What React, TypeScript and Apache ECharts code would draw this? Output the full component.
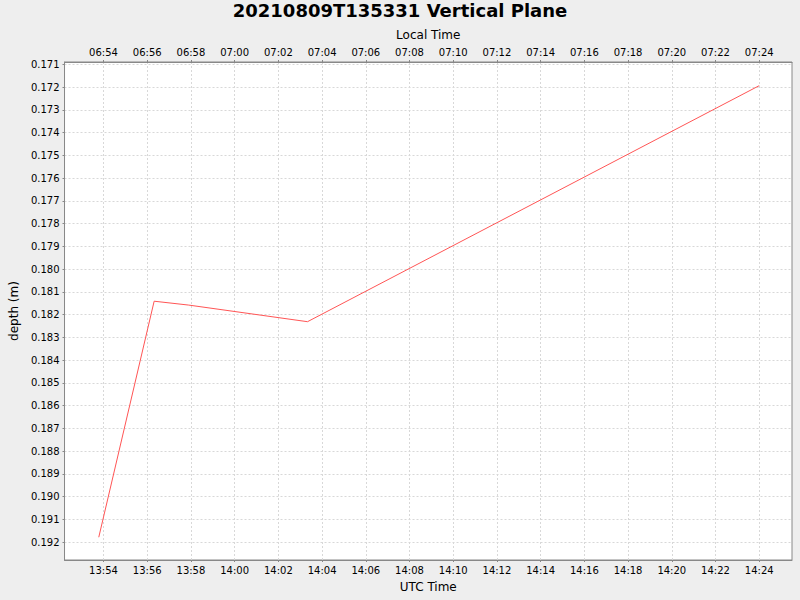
import React, { useEffect, useRef } from "react";
import * as echarts from "echarts";

const utcTimes = ["13:53:47", "13:56:19", "13:57:54", "14:03:20", "14:24:00"];
const depths = [0.19178, 0.18141, 0.18158, 0.18231, 0.17194];
const utcTickLabels = [
  "13:54", "13:56", "13:58", "14:00", "14:02", "14:04", "14:06", "14:08",
  "14:10", "14:12", "14:14", "14:16", "14:18", "14:20", "14:22", "14:24",
];
const depthTicks = [
  0.171, 0.172, 0.173, 0.174, 0.175, 0.176, 0.177, 0.178, 0.179, 0.18, 0.181,
  0.182, 0.183, 0.184, 0.185, 0.186, 0.187, 0.188, 0.189, 0.19, 0.191, 0.192,
];
const xMinTime = "13:52:13";
const xMaxTime = "14:25:30";
const yMin = 0.1709;
const yMax = 0.19278;
const localOffsetMinutes = -420;

const toMin = (s: string) => {
  const [h, m, sec] = s.split(":").map(Number);
  return h * 60 + m + (sec || 0) / 60;
};
const fmtMin = (v: number) => {
  const r = Math.round(v);
  const t = ((r % 1440) + 1440) % 1440;
  const h = Math.floor(t / 60);
  const m = t % 60;
  return String(h).padStart(2, "0") + ":" + String(m).padStart(2, "0");
};

export default function App() {
  const ref = useRef<HTMLDivElement>(null);
  useEffect(() => {
    if (!ref.current) return;
    const chart = echarts.init(ref.current, undefined, { renderer: "svg" });
    const font = "DejaVu Sans";
    const xMin = toMin(xMinTime);
    const xMax = toMin(xMaxTime);
    const xTicks = utcTickLabels.map(toMin);
    const data = utcTimes.map((t, i) => [toMin(t), depths[i]]);
    const tickLabel = { fontFamily: font, fontSize: 10, color: "#000" };
    const axisLine = { show: true, lineStyle: { color: "#888", width: 1 } };
    const splitLine = { show: true, lineStyle: { color: "#d8d8d8", type: [2, 2] as any, width: 1 } };
    const axisTick = (vals: number[]) => ({ show: true, length: 2, customValues: vals, lineStyle: { color: "#888" } });
    chart.setOption({
      animation: false,
      backgroundColor: "#eeeeee",
      title: {
        text: "20210809T135331 Vertical Plane",
        left: "center",
        top: 1,
        padding: 0,
        textStyle: { fontFamily: font, fontSize: 18, fontWeight: "bold", color: "#000" },
      },
      grid: {
        left: 62,
        top: 62,
        width: 730,
        height: 498,
        show: true,
        backgroundColor: "#fff",
        borderColor: "#888",
        borderWidth: 1,
      },
      xAxis: [
        {
          type: "value",
          position: "bottom",
          min: xMin,
          max: xMax,
          name: "UTC Time",
          nameLocation: "middle",
          nameGap: 21,
          nameTextStyle: { fontFamily: font, fontSize: 12, color: "#000" },
          axisLine,
          axisTick: axisTick(xTicks),
          axisLabel: { ...tickLabel, margin: 5, customValues: xTicks, formatter: (v: number) => fmtMin(v) },
          splitLine,
        },
        {
          type: "value",
          position: "top",
          min: xMin,
          max: xMax,
          name: "Local Time",
          nameLocation: "middle",
          nameGap: 21,
          nameTextStyle: { fontFamily: font, fontSize: 12, color: "#000" },
          axisLine,
          axisTick: axisTick(xTicks),
          axisLabel: {
            ...tickLabel,
            margin: 5,
            customValues: xTicks,
            formatter: (v: number) => fmtMin(v + localOffsetMinutes),
          },
          splitLine: { show: false },
        },
      ],
      yAxis: {
        type: "value",
        inverse: true,
        min: yMin,
        max: yMax,
        name: "depth (m)",
        nameLocation: "middle",
        nameGap: 37,
        nameTextStyle: { fontFamily: font, fontSize: 12, color: "#000" },
        axisLine,
        axisTick: axisTick(depthTicks),
        axisLabel: {
          ...tickLabel,
          margin: 5,
          customValues: depthTicks,
          formatter: (v: number) => v.toFixed(3),
        },
        splitLine,
      },
      series: [
        {
          type: "line",
          data,
          xAxisIndex: 0,
          showSymbol: false,
          symbol: "none",
          lineStyle: { color: "#ff5555", width: 1 },
          itemStyle: { color: "#ff5555" },
        },
      ],
    });
    return () => chart.dispose();
  }, []);
  return (
    <div
      ref={ref}
      style={{ position: "fixed", left: 0, top: 0, width: 800, height: 600 }}
    />
  );
}
